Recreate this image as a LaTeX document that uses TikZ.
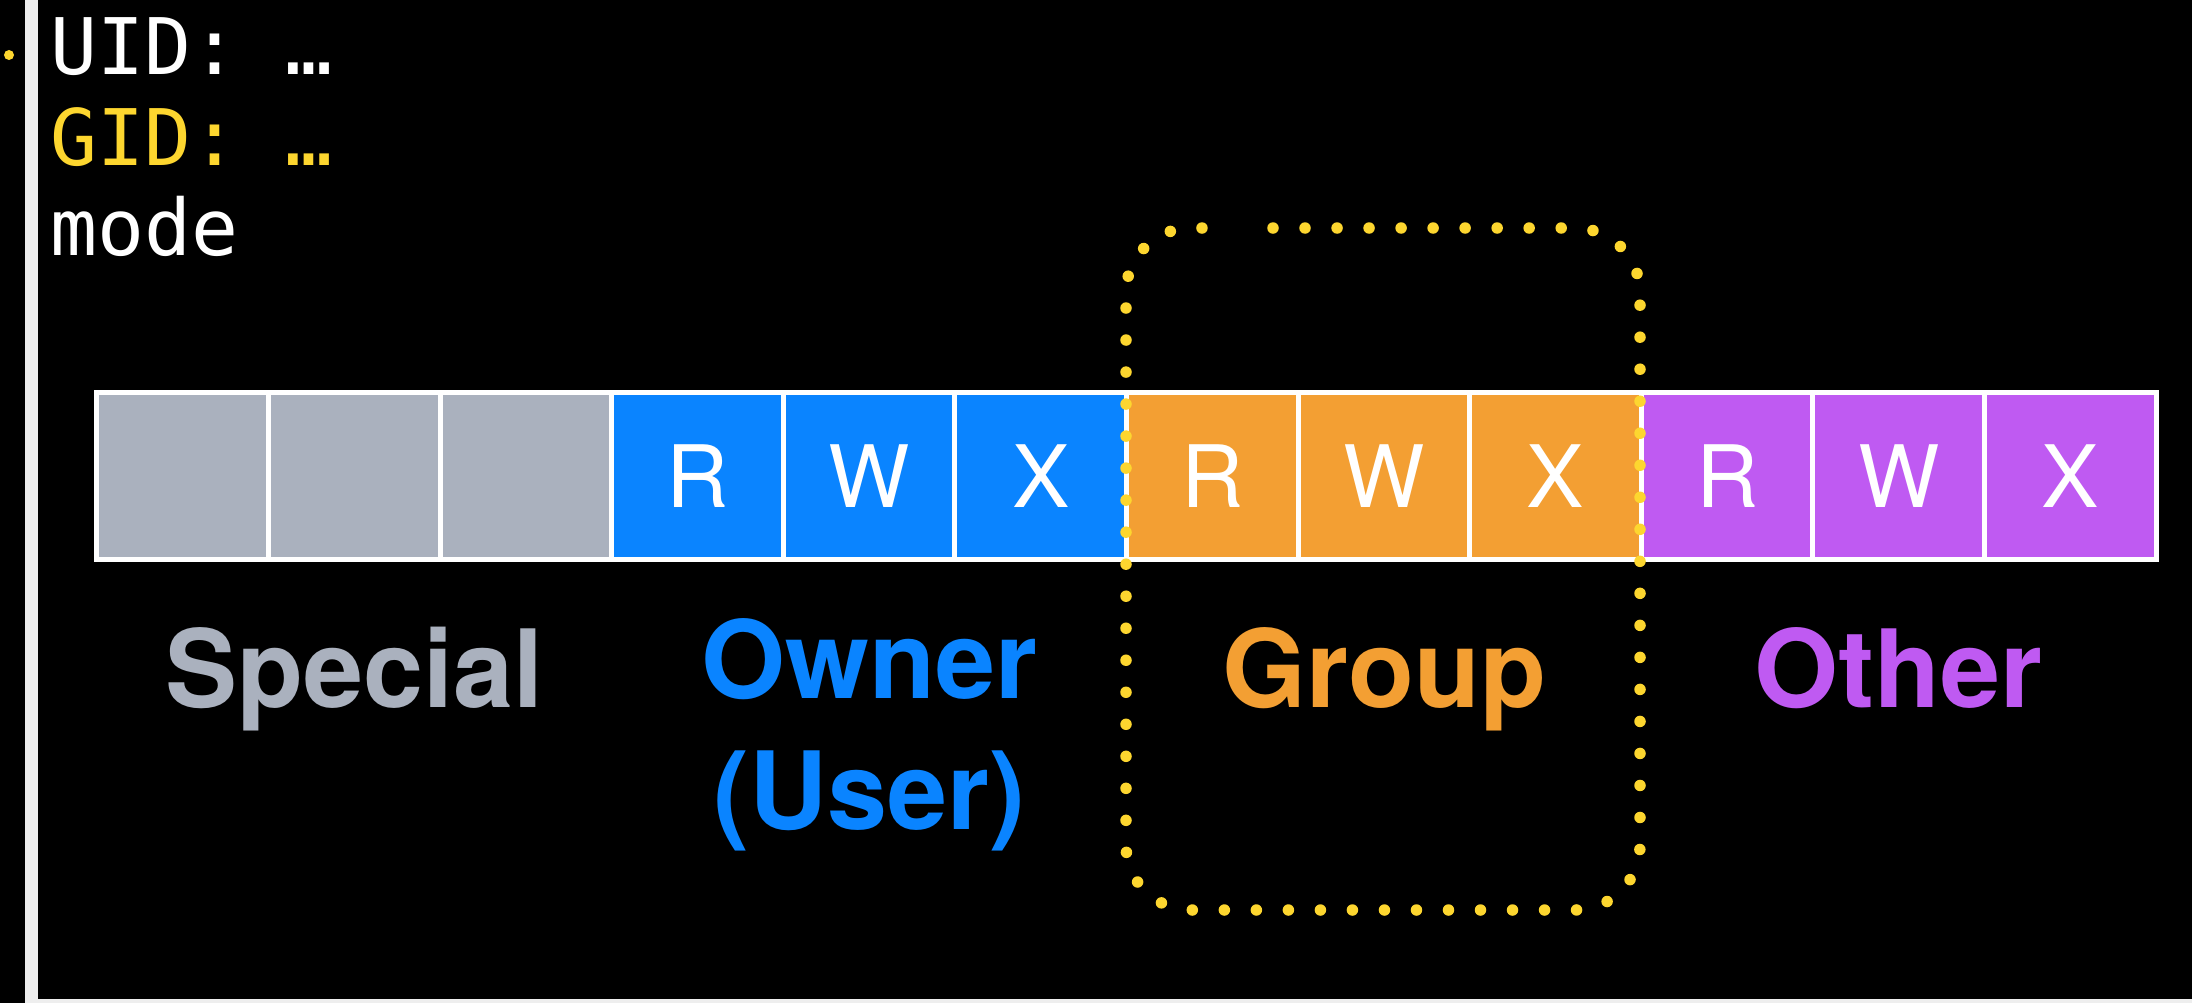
\documentclass[tikz,border=0pt]{standalone}
\usepackage{fontspec}
\setmainfont{TeX Gyre Heros}
\setmonofont{DejaVu Sans Mono}
\usetikzlibrary{positioning}

\definecolor{specialgray}{HTML}{AAB1BE}
\definecolor{ownerblue}{HTML}{0A84FF}
\definecolor{grouporange}{HTML}{F39F33}
\definecolor{otherpurple}{HTML}{BF5AF2}
\definecolor{idyellow}{HTML}{FDD62F}
\definecolor{barwhite}{HTML}{EEEEEE}

\begin{document}
\begin{tikzpicture}[x=0.01cm,y=-0.01cm,
    bit/.style={draw=white,line width=0.05cm,minimum width=1.716cm,
      minimum height=1.66cm,inner sep=0pt,text=white,
      font=\fontsize{24.5}{24.5}\selectfont},
    who/.style={anchor=base,inner sep=0pt,
      font=\fontsize{30.7}{37}\selectfont\bfseries},
    shell/.style={anchor=base west,inner sep=0pt,
      font=\ttfamily\fontsize{22.2}{26}\selectfont}]

          \fill[black] (0,0) rectangle (2192,1003);
          \fill[barwhite] (25,0) rectangle (38,1003);
          \fill[barwhite] (25,999) rectangle (2192,1003);
          \fill[idyellow] (9,55) circle (0.05cm);

          \draw (50,74) node[shell,text=white] (uid) {UID: …};

          \draw (50,165) node[shell,text=idyellow] (gid)
          {GID: …};

          \draw (50,255) node[shell,text=white] (mode) {mode};

          \draw (182.8,476) node[bit,fill=specialgray] (s1) {};

          \draw (354.4,476) node[bit,fill=specialgray] (s2) {};

          \draw (526,476) node[bit,fill=specialgray] (s3) {};

          \draw (697.6,476) node[bit,fill=ownerblue] (ur) {R};

          \draw (869.2,476) node[bit,fill=ownerblue] (uw)
          {W};

          \draw (1040.8,476) node[bit,fill=ownerblue] (ux) {X};

          \draw (1212.4,476) node[bit,fill=grouporange] (gr) {R};

          \draw (1384,476) node[bit,fill=grouporange] (gw)
          {W};

          \draw (1555.6,476) node[bit,fill=grouporange] (gx) {X};

          \draw (1727.2,476) node[bit,fill=otherpurple] (or) {R};

          \draw (1898.8,476) node[bit,fill=otherpurple] (ow)
          {W};

          \draw (2070.4,476) node[bit,fill=otherpurple] (ox) {X};

          \draw (354.4,707) node[who,text=specialgray] (special) {Special};

          \draw (869.2,698) node[who,text=ownerblue] (owner) {Owner};

          \draw (869.2,829) node[who,text=ownerblue] (user)
          {(User)};

          \draw (1384,707) node[who,text=grouporange] (group) {Group};

          \draw (1898.8,707) node[who,text=otherpurple] (other) {Other};

          % dotted frame round the group bits
          \draw[idyellow,line width=0.115cm,line cap=round,
          dash pattern=on 0cm off 0.32cm,rounded corners=0.65cm]
          (1273,228) -- (1640,228) -- (1640,910) -- (1126,910)
          -- (1126,228) -- (1218,228);
        \end{tikzpicture}
\end{document}
